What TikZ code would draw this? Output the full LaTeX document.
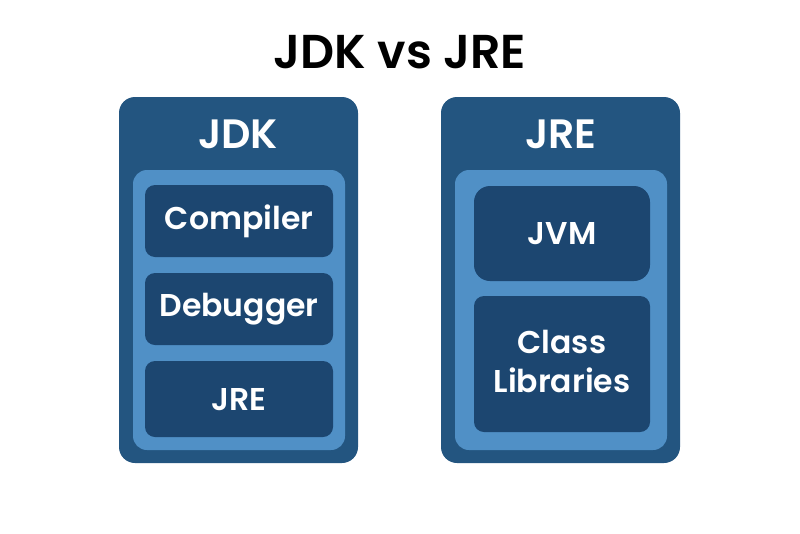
\documentclass[tikz,border=0pt]{standalone}
\usepackage{fontspec}
\setmainfont{Poppins}[BoldFont={Poppins SemiBold}]
\begin{document}
\begin{tikzpicture}[x=1pt,y=-1pt,
  outer/.style={fill=outerc,rounded corners=16pt},
  inner/.style={fill=innerc,rounded corners=14pt},
  item/.style={fill=itemc,rounded corners=10pt},
  lab/.style={text=white,font=\fontsize{31.5}{39}\selectfont\bfseries,align=center},
  head/.style={text=white,font=\fontsize{41}{46}\selectfont\bfseries}]
\definecolor{outerc}{HTML}{235580}
\definecolor{innerc}{HTML}{5090C6}
\definecolor{itemc}{HTML}{1C4670}
\useasboundingbox[fill=white] (0,0) rectangle (800,533);
\node[font=\fontsize{47.5}{52}\selectfont\bfseries] (title) at (400,52) {JDK vs JRE};
% JDK
\path[outer] (119,97) rectangle (358,463);
\node[head] (jdkh) at (238,134) {JDK};
\path[inner] (133,170) rectangle (345,450);
\path[item] (145,185) rectangle (333,257);
\node[lab] (comp) at (239,221) {Compiler};
\path[item] (145,273) rectangle (333,345);
\node[lab] (debug) at (239,309) {Debugger};
\path[item] (145,361) rectangle (333,437);
\node[lab] (jre1) at (239,400) {JRE};
% JRE
\path[outer] (441,97) rectangle (680,463);
\node[head] (jreh) at (561,134) {JRE};
\path[inner] (455,170) rectangle (667,450);
\path[item,rounded corners=16pt] (474,186) rectangle (650,281);
\node[lab] (jvm) at (562,234) {JVM};
\path[item] (474,296) rectangle (650,432);
\node[lab] (cl) at (562,361) {Class\\Libraries};
\end{tikzpicture}
\end{document}
